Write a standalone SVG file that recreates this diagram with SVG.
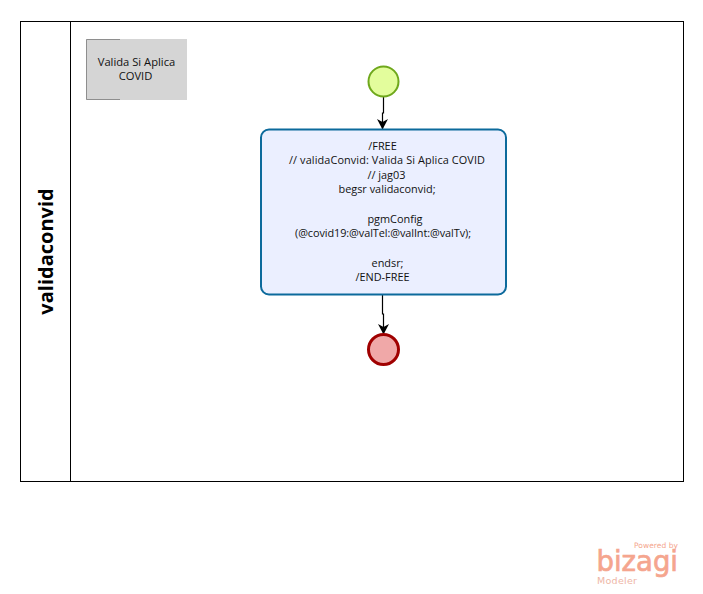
<svg xmlns="http://www.w3.org/2000/svg" width="703" height="594" viewBox="0 0 703 594">
<defs>
<style>
.t{font-family:"Open Sans","Noto Sans","Liberation Sans",sans-serif;font-size:10.9px;fill:#111;text-anchor:middle}
.c{fill:none;stroke:#000;stroke-width:1.2}
</style>
<marker id="arrow" markerUnits="userSpaceOnUse" markerWidth="12" markerHeight="12" refX="10" refY="5.5" orient="auto"><path d="M0 0L10.500 5.500L0 11L3 5.500Z" fill="#000"/></marker>
</defs>
<rect width="703" height="594" fill="#fff"/>
<g id="pool">
<rect x="20.500" y="21.500" width="663" height="460" fill="#fff" stroke="#000" stroke-width="1"/>
<line x1="70.500" y1="21.500" x2="70.500" y2="481.500" stroke="#000" stroke-width="1"/>
<text transform="translate(53,251.500) rotate(-90)" font-family="'Open Sans','Noto Sans','Liberation Sans',sans-serif" font-size="20" font-weight="700" fill="#000" text-anchor="middle">validaconvid</text>
</g>
<g id="annotation">
<rect x="86" y="39" width="101" height="61" fill="#d5d5d5"/>
<path d="M120 39.500H86.500V99.500H120" fill="none" stroke="#8e8e8e" stroke-width="1"/>
<text class="t" x="136.500" y="66" style="font-size:11.200px">Valida Si Aplica</text>
<text class="t" x="135.500" y="80" style="font-size:11.200px">COVID</text>
</g>
<g id="connectors">
<path class="c" d="M383.500 97V113H382.500V129" marker-end="url(#arrow)"/>
<path class="c" d="M382.500 295V314H383.500V334" marker-end="url(#arrow)"/>
</g>
<g id="start">
<circle cx="383.500" cy="81.500" r="15" fill="#e3fd9c" stroke="#6fa81c" stroke-width="2"/>
</g>
<g id="task">
<rect x="261" y="129.500" width="245" height="165" rx="8" fill="#ebefff" stroke="#0c6a9c" stroke-width="2"/>
<text class="t" x="382.500" y="150">/FREE</text>
<text class="t" x="387" y="164" textLength="196">// validaConvid: Valida Si Aplica COVID</text>
<text class="t" x="386.500" y="179">// jag03</text>
<text class="t" x="387" y="193">begsr validaconvid;</text>
<text class="t" x="395" y="223">pgmConfig</text>
<text class="t" x="383" y="237" textLength="176">(@covid19:@valTel:@valInt:@valTv);</text>
<text class="t" x="387.500" y="267">endsr;</text>
<text class="t" x="382.500" y="281">/END-FREE</text>
</g>
<g id="end">
<circle cx="383.500" cy="349.500" r="15" fill="#f0a8a8" stroke="#a00000" stroke-width="3"/>
</g>
<g id="logo" text-anchor="end">
<text x="678" y="548" font-family="'DejaVu Sans',sans-serif" font-size="7.500" fill="#f4a58d" textLength="44">Powered by</text>
<text x="678" y="571" font-family="'DejaVu Sans',sans-serif" font-size="27.500" fill="#f5a58e" stroke="#f5a58e" stroke-width="0.700">bizagi</text>
<text x="637" y="584" font-family="'DejaVu Sans',sans-serif" font-size="9.500" fill="#eeb5a5" textLength="40">Modeler</text>
</g>
</svg>
